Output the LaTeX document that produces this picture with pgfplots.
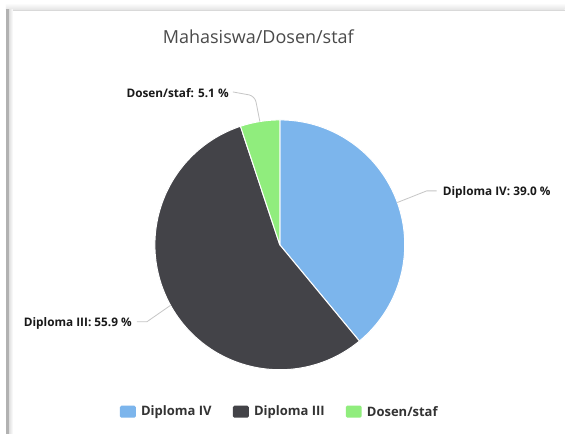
\documentclass[border=0pt]{standalone}
\usepackage{pgfplots}
\pgfplotsset{compat=1.18}
\usepackage{pgfplotstable}
\usepackage{fontspec}
\setmainfont{Open Sans}
\definecolor{hcblue}{HTML}{7CB5EC}
\definecolor{hcdark}{HTML}{434348}
\definecolor{hcgreen}{HTML}{90ED7D}
\definecolor{txt}{HTML}{333333}
\definecolor{ttl}{HTML}{4A4A4A}

\pgfplotstableread[col sep=comma]{
label,value
Diploma IV,39.0
Diploma III,55.9
Dosen/staf,5.1
}\piedata

\pgfkeys{/pgf/number format/.cd,fixed,precision=1,fixed zerofill,assume math mode=true}

\begin{document}
\begin{tikzpicture}
\pgfplotstablegetelem{0}{value}\of\piedata \let\vA\pgfplotsretval
\pgfplotstablegetelem{1}{value}\of\piedata \let\vB\pgfplotsretval
\pgfplotstablegetelem{2}{value}\of\piedata \let\vC\pgfplotsretval
\pgfmathsetmacro\aO{90}
\pgfmathsetmacro\aA{90-3.6*\vA}
\pgfmathsetmacro\aB{\aA-3.6*\vB}
\pgfmathsetmacro\aC{\aB-3.6*\vC}
\pgfmathsetmacro\mA{(\aO+\aA)/2}
\pgfmathsetmacro\mB{(\aA+\aB)/2}
\pgfmathsetmacro\mC{(\aB+\aC)/2}
\begin{axis}[width=565pt,height=434pt,scale only axis,
  xmin=0,xmax=565,ymin=0,ymax=434,hide axis,clip=false]
% background and frame
\fill[white] (axis cs:0,0) rectangle (axis cs:565,434);
\shade[top color=white,bottom color=gray!22] (axis cs:6,424) rectangle (axis cs:565,431);
\draw[gray!30,line width=0.8pt] (axis cs:8,424) -- (axis cs:565,424);
\shade[left color=gray!25,right color=white] (axis cs:9,0) rectangle (axis cs:13,424);
\fill[gray!60] (axis cs:6,0) rectangle (axis cs:9,425);
% title
\node[text=ttl,font=\fontsize{18}{21}\selectfont] at (axis cs:258.5,397) {Mahasiswa/Dosen/staf};
% pie slices
\filldraw[fill=hcblue,draw=white,line width=1pt,line join=round]
  (axis cs:280,189) -- ++(\aO:125pt) arc[start angle=\aO,end angle=\aA,radius=125pt] -- cycle;
\filldraw[fill=hcdark,draw=white,line width=1pt,line join=round]
  (axis cs:280,189) -- ++(\aA:125pt) arc[start angle=\aA,end angle=\aB,radius=125pt] -- cycle;
\filldraw[fill=hcgreen,draw=white,line width=1pt,line join=round]
  (axis cs:280,189) -- ++(\aB:125pt) arc[start angle=\aB,end angle=\aC,radius=125pt] -- cycle;
% connectors
\draw[gray!45,line width=0.8pt] (axis cs:437,243) -- (axis cs:427,243) -- ([shift={(\mA:125pt)}]axis cs:280,189);
\draw[gray!45,line width=0.8pt] (axis cs:137,112) -- (axis cs:147,112) -- ([shift={(\mB:125pt)}]axis cs:280,189);
\draw[gray!45,line width=0.8pt,rounded corners=6pt] (axis cs:233,342) -- (axis cs:255,338) -- ([shift={(\mC:125pt)}]axis cs:280,189);
% data labels
\node[anchor=west,inner sep=0pt,text=black!90,font=\bfseries\fontsize{11.8}{14}\selectfont] at (axis cs:443,241) {Diploma IV: \pgfmathprintnumber{\vA} \%};
\node[anchor=east,inner sep=0pt,text=black!90,font=\bfseries\fontsize{11.8}{14}\selectfont] at (axis cs:229,341) {Dosen/staf: \pgfmathprintnumber{\vC} \%};
\begin{scope}
\clip (axis cs:24,0) rectangle (axis cs:565,434);
\node[anchor=east,inner sep=0pt,text=black!90,font=\bfseries\fontsize{11.8}{14}\selectfont] at (axis cs:132,110) {Diploma III: \pgfmathprintnumber{\vB} \%};
\end{scope}
% legend
\fill[hcblue,rounded corners=1.5pt] (axis cs:120,16) rectangle (axis cs:136,28);
\node[anchor=west,inner sep=0pt,text=txt,font=\bfseries\fontsize{13}{15}\selectfont] at (axis cs:141,22) {Diploma IV};
\fill[hcdark,rounded corners=1.5pt] (axis cs:233,16) rectangle (axis cs:249,28);
\node[anchor=west,inner sep=0pt,text=txt,font=\bfseries\fontsize{13}{15}\selectfont] at (axis cs:254,22) {Diploma III};
\fill[hcgreen,rounded corners=1.5pt] (axis cs:346,16) rectangle (axis cs:362,28);
\node[anchor=west,inner sep=0pt,text=txt,font=\bfseries\fontsize{13}{15}\selectfont] at (axis cs:367,22) {Dosen/staf};
\end{axis}
\end{tikzpicture}
\end{document}
